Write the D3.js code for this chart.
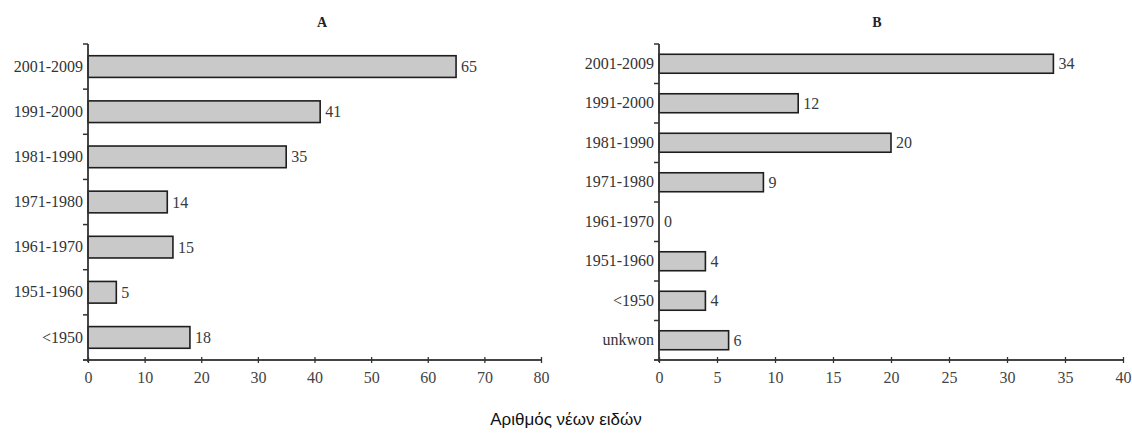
<!DOCTYPE html>
<html>
<head>
<meta charset="utf-8">
<script src="https://cdn.jsdelivr.net/npm/d3@7"></script>
<style>
  body { margin: 0; background: #fff; }
  svg text { font-family: "Liberation Serif", "DejaVu Serif", serif; }
  svg text.note { font-family: "Liberation Sans", Arial, sans-serif; }
</style>
</head>
<body>
<div id="chart"></div>
<script>
// Data
const catsA = ["2001-2009", "1991-2000", "1981-1990", "1971-1980", "1961-1970", "1951-1960", "<1950"];
const valsA = [65, 41, 35, 14, 15, 5, 18];
const ticksA = [0, 10, 20, 30, 40, 50, 60, 70, 80];

const catsB = ["2001-2009", "1991-2000", "1981-1990", "1971-1980", "1961-1970", "1951-1960", "<1950", "unkwon"];
const valsB = [34, 12, 20, 9, 0, 4, 4, 6];
const ticksB = [0, 5, 10, 15, 20, 25, 30, 35, 40];

const w = 1132, h = 437;
const plotTop = 44, plotBottom = 360;
const fs = 16;

const svg = d3.select("#chart")
  .append("svg")
  .attr("width", w)
  .attr("height", h);

function panel(title, cats, vals, ticks, x0, x1, titleX) {
  const pad = 0.52;
  const x = d3.scaleLinear().domain([0, ticks[ticks.length - 1]]).range([x0, x1]);
  const y = d3.scaleBand().domain(cats).range([plotTop, plotBottom])
    .paddingInner(pad).paddingOuter(pad / 2);
  const data = cats.map((c, i) => ({ cat: c, val: vals[i] }));

  const g = svg.append("g");

  // bars
  g.selectAll("rect")
    .data(data)
    .enter()
    .append("rect")
    .attr("x", x(0))
    .attr("y", d => y(d.cat))
    .attr("width", d => x(d.val) - x(0))
    .attr("height", y.bandwidth())
    .attr("fill", "#c9c9c9")
    .attr("stroke", "#1e1e1e")
    .attr("stroke-width", 1.6);

  // value labels
  g.selectAll("text.val")
    .data(data)
    .enter()
    .append("text")
    .attr("class", "val")
    .attr("x", d => x(d.val) + 5)
    .attr("y", d => y(d.cat) + y.bandwidth() / 2)
    .attr("dy", "0.35em")
    .attr("font-size", fs)
    .attr("fill", "#3a3a3a")
    .text(d => d.val);

  // x axis
  const xAxis = g.append("g")
    .attr("transform", `translate(0,${plotBottom})`)
    .call(d3.axisBottom(x).tickValues(ticks).tickSize(3).tickSizeOuter(0));
  xAxis.select(".domain")
    .attr("d", `M${x0 - 5},0H${x1}`)
    .attr("stroke", "#444").attr("stroke-width", 1.8);
  xAxis.selectAll(".tick line").attr("y1", -3).attr("stroke", "#333").attr("stroke-width", 1.3);
  xAxis.selectAll(".tick text")
    .attr("y", 12)
    .attr("font-size", fs)
    .attr("fill", "#444");

  // y axis (labels only, ticks at band boundaries)
  const yAxis = g.append("g")
    .attr("transform", `translate(${x0},0)`)
    .call(d3.axisLeft(y).tickSize(0).tickSizeOuter(0).tickPadding(5));
  yAxis.select(".domain")
    .attr("d", `M0,${plotTop}V${plotBottom + 2}`)
    .attr("stroke", "#333").attr("stroke-width", 1.8);
  yAxis.selectAll(".tick text")
    .attr("font-size", fs)
    .attr("fill", "#333");

  const half = y.step() * pad / 2;
  const bounds = cats.map(c => y(c) - half);
  g.selectAll("line.ytick")
    .data(bounds)
    .enter()
    .append("line")
    .attr("class", "ytick")
    .attr("x1", x0 - 5)
    .attr("x2", x0)
    .attr("y1", d => d)
    .attr("y2", d => d)
    .attr("stroke", "#333")
    .attr("stroke-width", 1.5);

  // title
  g.append("text")
    .attr("x", titleX)
    .attr("y", 27)
    .attr("text-anchor", "middle")
    .attr("font-size", 14)
    .attr("font-weight", "bold")
    .attr("fill", "#222")
    .text(title);
}

panel("A", catsA, valsA, ticksA, 88, 541, 322);
panel("B", catsB, valsB, ticksB, 659, 1123, 877);

svg.append("text")
  .attr("class", "note")
  .attr("x", 566)
  .attr("y", 425)
  .attr("text-anchor", "middle")
  .attr("font-size", 17)
  .attr("fill", "#111")
  .text("Αριθμός νέων ειδών");
</script>
</body>
</html>
